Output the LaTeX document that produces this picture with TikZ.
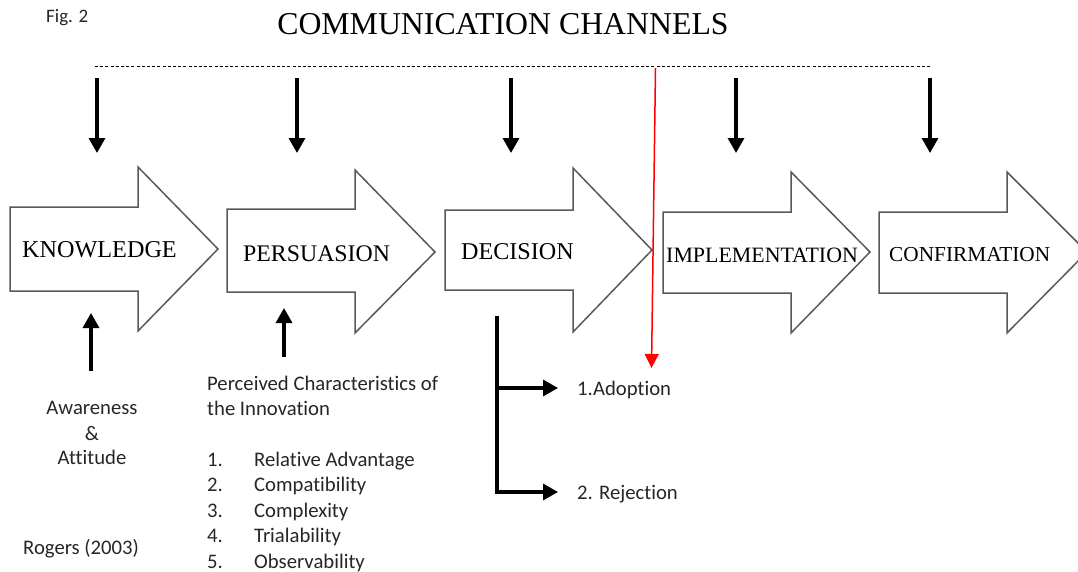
\documentclass[tikz,border=0pt]{standalone}
\usepackage{fontspec}
\setmainfont{Liberation Serif}
\newfontfamily\calib[Ligatures=NoCommon]{Carlito}
\usetikzlibrary{arrows.meta}
\tikzset{
  blk/.style={draw=black!65, line width=1.5pt, fill=white, line join=miter},
  chan/.style={line width=3.2pt, -{Triangle[width=16pt,length=15pt]}},
  lbl/.style={anchor=west, inner sep=0pt, font=\fontsize{23.8}{26}\selectfont},
  txt/.style={inner sep=0pt, font=\calib\fontsize{20.7}{24}\selectfont, text=black!85},
}
\begin{document}
\begin{tikzpicture}[x=1pt,y=-1pt]
\useasboundingbox (0,0) rectangle (1078,571);
\clip (0,0) rectangle (1078,571);
% title
\node[txt, anchor=west, font=\calib\fontsize{19}{22}\selectfont] (fig) at (46,18) {Fig. 2};
\node[inner sep=0pt, font=\fontsize{31.8}{36}\selectfont] (title) at (503,24) {COMMUNICATION CHANNELS};
% channel line
\coordinate (cl) at (95,66);
\coordinate (cr) at (930,66);
\draw[line width=0.9pt, dash pattern=on 3pt off 2.2pt] (cl) -- (cr);
% block arrows
\draw[blk] (10,207) -- (138,207) -- (138,167) -- (218,249) -- (138,331) -- (138,291) -- (10,291) -- cycle;
\draw[blk] (227,209) -- (355,209) -- (355,170) -- (435,252) -- (355,333) -- (355,292) -- (227,292) -- cycle;
\draw[blk] (445,210) -- (573,210) -- (573,168) -- (652,250) -- (573,332) -- (573,290) -- (445,290) -- cycle;
\draw[blk] (663,212) -- (791,212) -- (791,172) -- (870,252) -- (791,333) -- (791,293) -- (663,293) -- cycle;
\draw[blk] (879,212) -- (1007,212) -- (1007,172) -- (1087,252) -- (1007,333) -- (1007,293) -- (879,293) -- cycle;
\node[lbl, font=\fontsize{24.2}{26}\selectfont] (know) at (22,250) {KNOWLEDGE};
\node[lbl] (pers) at (243,254) {PERSUASION};
\node[lbl, font=\fontsize{24.1}{26}\selectfont] (deci) at (461,252) {DECISION};
\node[lbl, font=\fontsize{21.9}{24}\selectfont] (impl) at (666,255) {IMPLEMENTATION};
\node[lbl, font=\fontsize{21.3}{24}\selectfont] (conf) at (889,255) {CONFIRMATION};
% channel arrows
\coordinate (d1s) at (97,78);  \coordinate (d1e) at (97,153);
\coordinate (d2s) at (297,78); \coordinate (d2e) at (297,153);
\coordinate (d3s) at (511,78); \coordinate (d3e) at (511,153);
\coordinate (d4s) at (736,78); \coordinate (d4e) at (736,153);
\coordinate (d5s) at (930,78); \coordinate (d5e) at (930,153);
\foreach \i in {1,...,5} \draw[chan] (d\i s) -- (d\i e);
% red arrow
\coordinate (rs) at (655.5,68);
\coordinate (re) at (651.5,368);
\draw[red, line width=1.5pt, -{Triangle[width=14pt,length=14pt]}] (rs) -- (re);
% up arrows
\coordinate (u1s) at (91,371); \coordinate (u1e) at (91,313);
\coordinate (u2s) at (284,357); \coordinate (u2e) at (284,308);
\draw[chan] (u1s) -- (u1e);
\draw[chan] (u2s) -- (u2e);
% awareness
\node[txt] (aw) at (92,408) {Awareness};
\node[txt] (amp) at (92,433) {\&};
\node[txt] (att) at (92,457) {Attitude};
\node[txt, anchor=west] (rog) at (23,549) {Rogers (2003)};
% characteristics
\node[txt, anchor=base west] (pc1) at (207,390) {Perceived Characteristics of};
\node[txt, anchor=base west] (pc2) at (207,415) {the Innovation};
\foreach \n/\t/\y in {1/Relative Advantage/466, 2/Compatibility/491, 3/Complexity/517, 4/Trialability/542, 5/Observability/568}{
  \node[txt, anchor=base west] (num\n) at (207,\y) {\n.};
  \node[txt, anchor=base west] (item\n) at (254,\y) {\t};
}
% decision bracket
\coordinate (bt) at (497,316);
\coordinate (bm) at (497,388);
\coordinate (bb) at (497,492);
\node[txt, anchor=base west] (adopt) at (577,395) {1.Adoption};
\node[txt, anchor=base west] (rej) at (577,499) {2. Rejection};
\draw[line width=3.2pt] (bt) -- (bb);
\draw[chan] ([xshift=-1.6pt]bb) -- (558,492);
\draw[chan] (bm) -- (558,388);
\end{tikzpicture}
\end{document}
